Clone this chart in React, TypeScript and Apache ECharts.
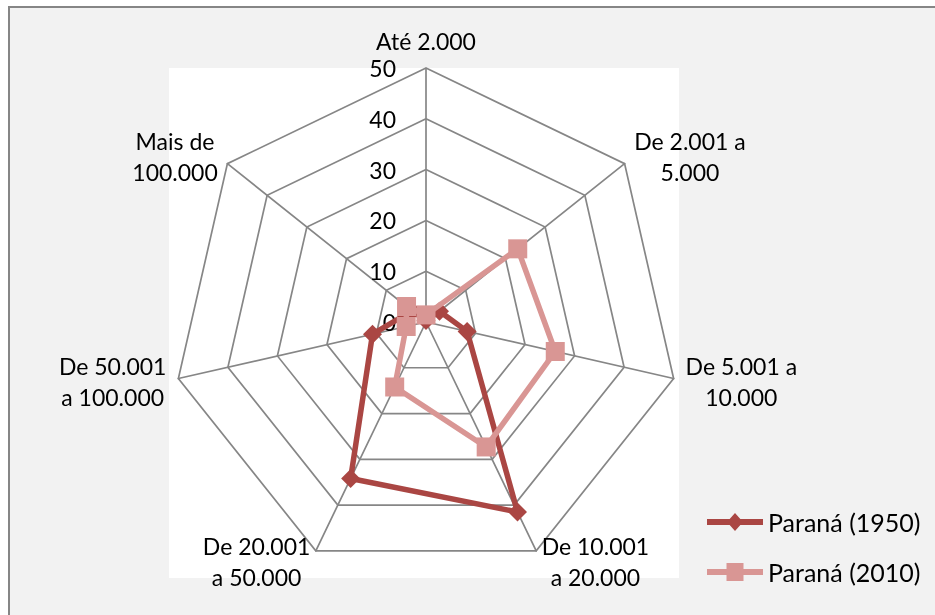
import React, { useEffect, useRef } from "react";
import * as echarts from "echarts";

const categories = [
  "Até 2.000",
  "De 2.001 a\n5.000",
  "De 5.001 a\n10.000",
  "De 10.001\na 20.000",
  "De 20.001\na 50.000",
  "De 50.001\na 100.000",
  "Mais de\n100.000",
];
const seriesNames = ["Paraná (1950)", "Paraná (2010)"];
const parana1950 = [0.3, 3.4, 8.3, 41.5, 34.2, 10.8, 3.5];
const parana2010 = [1.4, 23.1, 26.1, 27.3, 14.2, 4.0, 4.9];
const axisMax = 50;
const splitCount = 5;

const FONT = "Lato";
const FS = 23;

// ECharts lays radar indicators out counter-clockwise; the reference runs clockwise.
const order = categories.map((_, i) => (i === 0 ? 0 : categories.length - i));
const reorder = <T,>(arr: T[]) => order.map((k) => arr[k]);

function measure(text: string): number {
  const c = document.createElement("canvas").getContext("2d");
  if (!c) return text.length * FS * 0.5;
  c.font = `${FS}px ${FONT}`;
  return c.measureText(text).width;
}

export default function App() {
  const ref = useRef<HTMLDivElement>(null);
  useEffect(() => {
    if (!ref.current) return;
    const chart = echarts.init(ref.current, undefined, { renderer: "svg" });
    const rich: Record<string, any> = {};
    categories.forEach((c, i) => {
      const w = Math.ceil(Math.max(...c.split("\n").map(measure)));
      rich["n" + i] = {
        width: w,
        align: "center",
        fontFamily: FONT,
        fontSize: FS,
        color: "#000",
        lineHeight: 31,
      };
    });
    const diamondIcon =
      "path://M0,6 L56,6 L56,12 L0,12 Z M28,0 L36,9 L28,18 L20,9 Z";
    const squareIcon =
      "path://M0,6 L56,6 L56,12 L0,12 Z M19.5,0 L36.5,0 L36.5,18 L19.5,18 Z";
    const cats = reorder(categories);
    chart.setOption({
      animation: false,
      graphic: [
        {
          type: "rect",
          z: -10,
          silent: true,
          shape: { x: 9, y: 7, width: 940, height: 620 },
          style: { fill: "#f2f2f2", stroke: "#868686", lineWidth: 2 },
        },
        {
          type: "rect",
          z: -9,
          silent: true,
          shape: { x: 169, y: 68, width: 510, height: 510 },
          style: { fill: "#ffffff" },
        },
      ],
      legend: {
        orient: "vertical",
        left: 707,
        top: 507,
        padding: 0,
        itemWidth: 56,
        itemHeight: 18,
        itemGap: 20,
        itemStyle: { borderWidth: 0 },
        textStyle: {
          fontFamily: FONT,
          fontSize: 25,
          color: "#000",
          lineHeight: 30,
        },
        data: [
          { name: seriesNames[0], icon: diamondIcon },
          { name: seriesNames[1], icon: squareIcon },
        ],
      },
      radar: {
        center: [426, 322],
        radius: 254,
        startAngle: 90,
        shape: "polygon",
        splitNumber: splitCount,
        nameGap: 12,
        axisName: {
          color: "#000",
          fontFamily: FONT,
          fontSize: FS,
          lineHeight: 31,
          rich,
          formatter: (name: string) => {
            const i = categories.indexOf(name);
            return name
              .split("\n")
              .map((l) => `{n${i}|${l}}`)
              .join("\n");
          },
        },
        splitLine: { lineStyle: { color: "#868686", width: 1.7 } },
        splitArea: { show: false },
        axisLine: { lineStyle: { color: "#868686", width: 1.7 } },
        axisTick: { show: false },
        axisLabel: { show: false },
        indicator: cats.map((c, i) => ({
          name: c,
          min: 0,
          max: axisMax,
          ...(i === 0
            ? {
                axisLabel: {
                  show: true,
                  margin: 30,
                  color: "#000",
                  fontFamily: FONT,
                  fontSize: FS,
                },
              }
            : {}),
        })),
      },
      series: [
        {
          type: "radar",
          z: 2,
          data: [
            {
              name: seriesNames[0],
              value: reorder(parana1950),
              symbol: "diamond",
              symbolSize: 19,
              lineStyle: { color: "#aa4643", width: 5.5 },
              itemStyle: { color: "#aa4643", borderWidth: 0 },
            },
          ],
        },
        {
          type: "radar",
          z: 3,
          data: [
            {
              name: seriesNames[1],
              value: reorder(parana2010),
              symbol: "rect",
              symbolSize: 19,
              lineStyle: { color: "#d99694", width: 5.5 },
              itemStyle: { color: "#d99694", borderWidth: 0 },
            },
          ],
        },
      ],
    });
    return () => chart.dispose();
  }, []);
  return (
    <div
      ref={ref}
      style={{ position: "fixed", left: 0, top: 0, width: 935, height: 615 }}
    />
  );
}
